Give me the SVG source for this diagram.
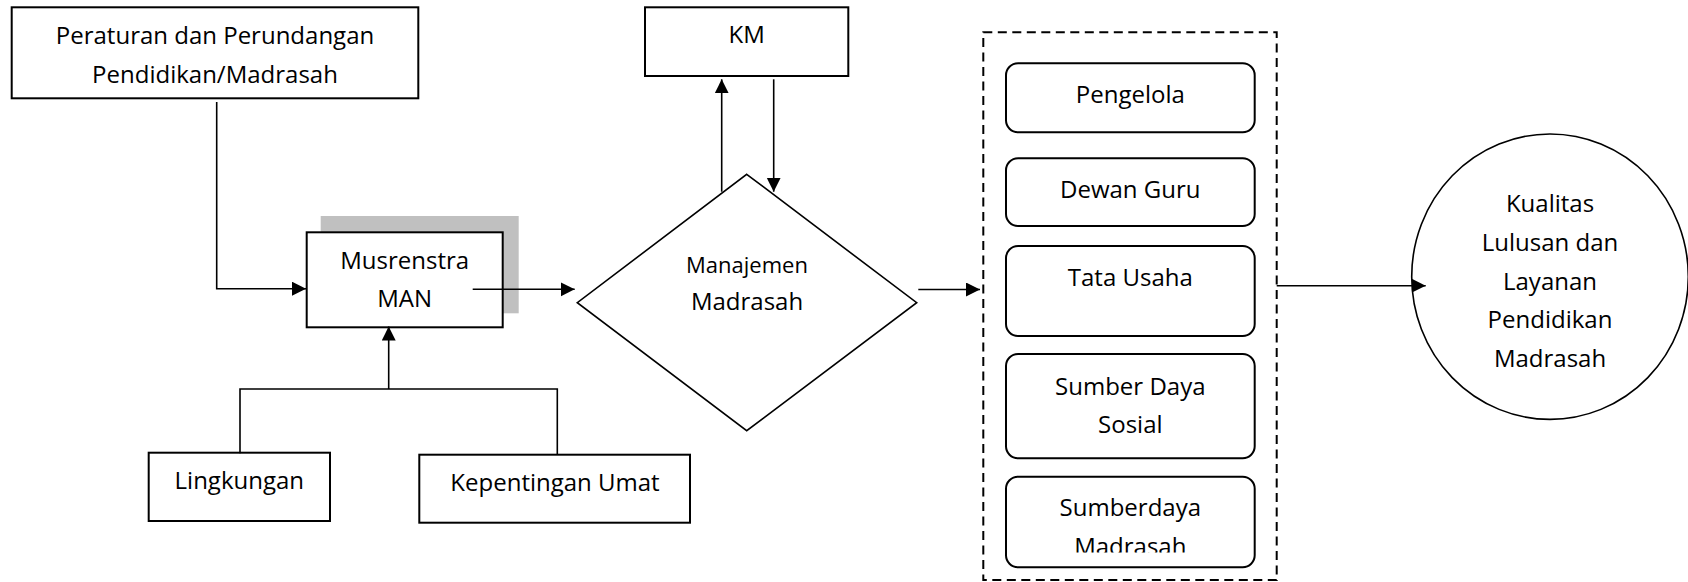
<svg xmlns="http://www.w3.org/2000/svg" width="1688" height="582" viewBox="0 0 1688 582">
<style>
.t{font-family:"Open Sans","Noto Sans","Liberation Sans",sans-serif;font-size:24px;fill:#000;text-anchor:middle}
.s{font-size:22px}
.box{fill:#fff;stroke:#000;stroke-width:2}
.rbox{fill:#fff;stroke:#000;stroke-width:2}
.ln{fill:none;stroke:#000;stroke-width:1.6}
.arr{fill:none;stroke:#000;stroke-width:1.6;marker-end:url(#ah)}
</style>
<defs>
<marker id="ah" markerUnits="userSpaceOnUse" markerWidth="15" markerHeight="15" refX="14" refY="7" orient="auto">
<path d="M0,0 L14,7 L0,14 z" fill="#000"/>
</marker>
<clipPath id="clipSM"><rect x="1006" y="476" width="249" height="76.5"/></clipPath>
</defs>
<rect width="1688" height="582" fill="#fff"/>

<g id="peraturan">
<rect class="box" x="11.7" y="7.3" width="406.6" height="91"/>
<text class="t" x="215" y="44.3">Peraturan dan Perundangan</text>
<text class="t" x="215" y="82.7">Pendidikan/Madrasah</text>
</g>

<g id="musrenstra">
<rect x="320.7" y="216" width="198" height="97.3" fill="#c0c0c0"/>
<rect class="box" x="306.7" y="232.3" width="196" height="95"/>
<text class="t" x="404.7" y="269">Musrenstra</text>
<text class="t" x="404.7" y="306.7">MAN</text>
</g>

<g id="lingkungan">
<rect class="box" x="148.7" y="452.7" width="181.3" height="68.3"/>
<text class="t" x="239.3" y="489">Lingkungan</text>
</g>

<g id="kepentingan">
<rect class="box" x="419.3" y="454.7" width="270.7" height="68"/>
<text class="t" x="555" y="490.7">Kepentingan Umat</text>
</g>

<g id="km">
<rect class="box" x="645" y="7.3" width="203.3" height="68.7"/>
<text class="t" x="746.7" y="43.3">KM</text>
</g>

<g id="manajemen">
<polygon points="746.7,174.3 916.7,302.7 746.7,430.7 577.3,302.7" fill="#fff" stroke="#000" stroke-width="1.6"/>
<text class="t s" x="747" y="273.3">Manajemen</text>
<text class="t" x="747" y="310">Madrasah</text>
</g>

<g id="komponen">
<rect x="983.3" y="32.3" width="293.4" height="547.7" fill="none" stroke="#000" stroke-width="2" stroke-dasharray="9 5.5"/>
<g id="pengelola">
<rect class="rbox" x="1006" y="63.3" width="248.7" height="69" rx="12"/>
<text class="t" x="1130.3" y="103.3">Pengelola</text>
</g>
<g id="dewan-guru">
<rect class="rbox" x="1006" y="158.3" width="248.7" height="67.7" rx="12"/>
<text class="t" x="1130.3" y="197.7">Dewan Guru</text>
</g>
<g id="tata-usaha">
<rect class="rbox" x="1006" y="246" width="248.7" height="90" rx="12"/>
<text class="t" x="1130.3" y="286">Tata Usaha</text>
</g>
<g id="sumber-daya-sosial">
<rect class="rbox" x="1006" y="354" width="248.7" height="104.3" rx="12"/>
<text class="t" x="1130.3" y="395">Sumber Daya</text>
<text class="t" x="1130.3" y="433.3">Sosial</text>
</g>
<g id="sumberdaya-madrasah">
<rect class="rbox" x="1006" y="476.7" width="248.7" height="90.6" rx="12"/>
<text class="t" x="1130.3" y="516">Sumberdaya</text>
<text class="t" x="1130.3" y="555" clip-path="url(#clipSM)">Madrasah</text>
</g>
</g>

<g id="kualitas">
<ellipse cx="1550" cy="276.7" rx="138.3" ry="142.7" fill="none" stroke="#000" stroke-width="1.6"/>
<text class="t" x="1550" y="212.3">Kualitas</text>
<text class="t" x="1550" y="251">Lulusan dan</text>
<text class="t" x="1550" y="290">Layanan</text>
<text class="t" x="1550" y="328.3">Pendidikan</text>
<text class="t" x="1550" y="366.7">Madrasah</text>
</g>

<g id="connectors">
<path class="arr" d="M216.7,102 V288.7 H306"/>
<path class="arr" d="M472.7,289.3 H574.7"/>
<path class="ln" d="M240,453.3 V389 H557.3 V454.7"/>
<path class="arr" d="M388.7,389 V326.5"/>
<path class="arr" d="M721.7,191.7 V79.3"/>
<path class="arr" d="M773.7,79.3 V191.7"/>
<path class="arr" d="M918.3,289.5 H980"/>
<path class="arr" d="M1276.7,285.7 H1425.7"/>
</g>
</svg>
